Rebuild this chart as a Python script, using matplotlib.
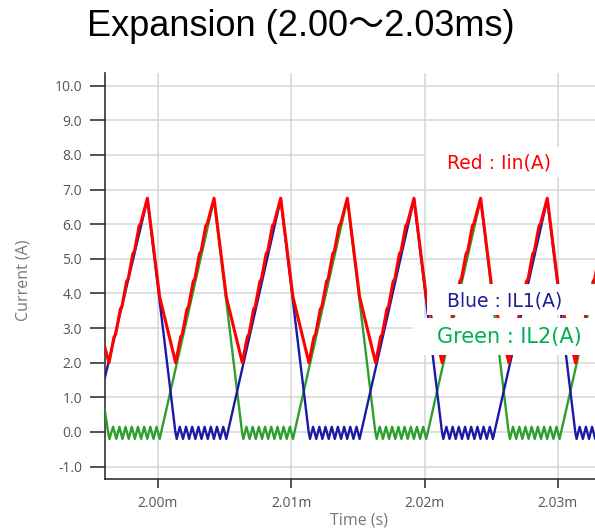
import matplotlib
matplotlib.use("Agg")
import matplotlib.pyplot as plt
from matplotlib.patches import Rectangle

# time in microseconds, measured from 2.000 ms
t_il1 = [-4.00, -0.80, 1.30, 1.40, 1.63, 1.87, 2.10, 2.33, 2.56, 2.80, 3.03, 3.26, 3.49, 3.73, 3.96, 4.19, 4.42, 4.66, 4.89, 5.12,
         9.20, 11.30, 11.40, 11.63, 11.87, 12.10, 12.33, 12.56, 12.80, 13.03, 13.26, 13.49, 13.73, 13.96, 14.19, 14.42, 14.66, 14.89, 15.12,
         19.20, 21.30, 21.40, 21.63, 21.87, 22.10, 22.33, 22.56, 22.80, 23.03, 23.26, 23.49, 23.73, 23.96, 24.19, 24.42, 24.66, 24.89, 25.12,
         29.20, 31.30, 31.40, 31.63, 31.87, 32.10, 32.33, 32.56, 32.80, 33.03, 33.26, 33.49, 33.73, 33.96, 34.19]
il1 = [1.55, 6.72, 0.00, -0.20, 0.15, -0.20, 0.15, -0.20, 0.15, -0.20, 0.15, -0.20, 0.15, -0.20, 0.15, -0.20, 0.15, -0.20, 0.15, -0.20,
       6.72, 0.00, -0.20, 0.15, -0.20, 0.15, -0.20, 0.15, -0.20, 0.15, -0.20, 0.15, -0.20, 0.15, -0.20, 0.15, -0.20, 0.15, -0.20,
       6.72, 0.00, -0.20, 0.15, -0.20, 0.15, -0.20, 0.15, -0.20, 0.15, -0.20, 0.15, -0.20, 0.15, -0.20, 0.15, -0.20, 0.15, -0.20,
       6.72, 0.00, -0.20, 0.15, -0.20, 0.15, -0.20, 0.15, -0.20, 0.15, -0.20, 0.15, -0.20, 0.15, -0.20]

t_il2 = [-4.00, -3.75, -3.65, -3.37, -3.13, -2.90, -2.67, -2.44, -2.20, -1.97, -1.74, -1.51, -1.27, -1.04, -0.81, -0.58, -0.34, -0.11, 0.12,
         4.20, 6.30, 6.40, 6.63, 6.87, 7.10, 7.33, 7.56, 7.80, 8.03, 8.26, 8.49, 8.73, 8.96, 9.19, 9.42, 9.66, 9.89, 10.12,
         14.20, 16.30, 16.40, 16.63, 16.87, 17.10, 17.33, 17.56, 17.80, 18.03, 18.26, 18.49, 18.73, 18.96, 19.19, 19.42, 19.66, 19.89, 20.12,
         24.20, 26.30, 26.40, 26.63, 26.87, 27.10, 27.33, 27.56, 27.80, 28.03, 28.26, 28.49, 28.73, 28.96, 29.19, 29.42, 29.66, 29.89, 30.12,
         34.20]
il2 = [0.65, 0.00, -0.20, 0.15, -0.20, 0.15, -0.20, 0.15, -0.20, 0.15, -0.20, 0.15, -0.20, 0.15, -0.20, 0.15, -0.20, 0.15, -0.20,
       6.72, 0.00, -0.20, 0.15, -0.20, 0.15, -0.20, 0.15, -0.20, 0.15, -0.20, 0.15, -0.20, 0.15, -0.20, 0.15, -0.20, 0.15, -0.20,
       6.72, 0.00, -0.20, 0.15, -0.20, 0.15, -0.20, 0.15, -0.20, 0.15, -0.20, 0.15, -0.20, 0.15, -0.20, 0.15, -0.20, 0.15, -0.20,
       6.72, 0.00, -0.20, 0.15, -0.20, 0.15, -0.20, 0.15, -0.20, 0.15, -0.20, 0.15, -0.20, 0.15, -0.20, 0.15, -0.20, 0.15, -0.20,
       6.72]

t_iin = [-4.00, -3.68, -3.30, -3.18, -2.83, -2.71, -2.36, -2.24, -1.89, -1.77, -1.42, -1.30, -0.80,
         0.12, 1.32, 1.70, 1.82, 2.17, 2.29, 2.64, 2.76, 3.11, 3.23, 3.58, 3.70, 4.20,
         5.12, 6.32, 6.70, 6.82, 7.17, 7.29, 7.64, 7.76, 8.11, 8.23, 8.58, 8.70, 9.20,
         10.12, 11.32, 11.70, 11.82, 12.17, 12.29, 12.64, 12.76, 13.11, 13.23, 13.58, 13.70, 14.20,
         15.12, 16.32, 16.70, 16.82, 17.17, 17.29, 17.64, 17.76, 18.11, 18.23, 18.58, 18.70, 19.20,
         20.12, 21.32, 21.70, 21.82, 22.17, 22.29, 22.64, 22.76, 23.11, 23.23, 23.58, 23.70, 24.20,
         25.12, 26.32, 26.70, 26.82, 27.17, 27.29, 27.64, 27.76, 28.11, 28.23, 28.58, 28.70, 29.20,
         30.12, 31.32, 31.70, 31.82, 32.17, 32.29, 32.64, 32.76, 33.11, 33.23, 33.58, 33.70, 34.20]
iin = [2.45, 2.00, 2.75, 2.82, 3.55, 3.62, 4.35, 4.42, 5.15, 5.22, 5.95, 6.02, 6.75,
       3.90, 2.00, 2.75, 2.82, 3.55, 3.62, 4.35, 4.42, 5.15, 5.22, 5.95, 6.02, 6.75,
       3.90, 2.00, 2.75, 2.82, 3.55, 3.62, 4.35, 4.42, 5.15, 5.22, 5.95, 6.02, 6.75,
       3.90, 2.00, 2.75, 2.82, 3.55, 3.62, 4.35, 4.42, 5.15, 5.22, 5.95, 6.02, 6.75,
       3.90, 2.00, 2.75, 2.82, 3.55, 3.62, 4.35, 4.42, 5.15, 5.22, 5.95, 6.02, 6.75,
       3.90, 2.00, 2.75, 2.82, 3.55, 3.62, 4.35, 4.42, 5.15, 5.22, 5.95, 6.02, 6.75,
       3.90, 2.00, 2.75, 2.82, 3.55, 3.62, 4.35, 4.42, 5.15, 5.22, 5.95, 6.02, 6.75,
       3.90, 2.00, 2.75, 2.82, 3.55, 3.62, 4.35, 4.42, 5.15, 5.22, 5.95, 6.02, 6.75]

x_ticks = [0, 10, 20, 30]
x_tick_labels = ['2.00m', '2.01m', '2.02m', '2.03m']
y_ticks = [-1, 0, 1, 2, 3, 4, 5, 6, 7, 8, 9, 10]

W, H = 595, 530
fig = plt.figure(figsize=(W / 100, H / 100), dpi=100)

# axes box in pixels (right side runs past the picture edge, as in the screenshot)
ax = fig.add_axes([105 / W, 1 - 479 / H, 506 / W, 406 / H])

ax.plot(t_il2, il2, color='#2ca02c', lw=1.7, zorder=3)
ax.plot(t_il1, il1, color='#1a1aa6', lw=1.7, zorder=4)
ax.plot(t_iin, iin, color='#ff0000', lw=2.2, zorder=5)

ax.set_xlim(-3.98, 33.98)
ax.set_ylim(-1.357, 10.365)
ax.set_xticks(x_ticks)
ax.set_xticklabels(x_tick_labels)
ax.set_yticks(y_ticks)
ax.set_yticklabels(['%.1f' % v for v in y_ticks])

ax.grid(True, color='#d9d9d9', lw=1.2)
ax.set_axisbelow(True)
for s in ['top', 'right']:
    ax.spines[s].set_visible(False)
for s in ['left', 'bottom']:
    ax.spines[s].set_color('#333333')
    ax.spines[s].set_linewidth(1.2)

ax.tick_params(axis='y', length=11, width=1.2, color='#333333', pad=5.5,
               labelsize=10, labelcolor='#555555')
ax.tick_params(axis='x', length=6.5, width=1.2, color='#333333', pad=5.5,
               labelsize=10, labelcolor='#555555')
for lab in ax.get_xticklabels() + ax.get_yticklabels():
    lab.set_family('Open Sans')

ax.set_ylabel('Current (A)', color='#777777', fontsize=11.5, family='Open Sans')
ax.set_xlabel('Time (s)', color='#777777', fontsize=11.5, family='Open Sans')
ax.yaxis.set_label_coords(-0.162, 0.49)
ax.yaxis.label.set_verticalalignment('center')
ax.xaxis.set_label_coords(0.502, -0.101)
ax.xaxis.label.set_verticalalignment('center')

fig.text(301 / W, 1 - 27 / H, 'Expansion (2.00～2.03ms)', ha='center', va='center',
         fontsize=26, color='black', family=['Liberation Sans', 'Noto Sans CJK JP'])

# white label boxes covering the traces
def box(x0, y0, x1, y1):
    fig.patches.append(Rectangle((x0 / W, 1 - y1 / H), (x1 - x0) / W, (y1 - y0) / H,
                                 transform=fig.transFigure, facecolor='white',
                                 edgecolor='none', zorder=5))

box(426, 147, 600, 177)
box(427, 284, 600, 315)
box(413, 318, 600, 355)

fig.text(499 / W, 1 - 163 / H, 'Red : Iin(A)', ha='center', va='center',
         fontsize=13.5, color='#ff0000', zorder=6)
fig.text(505 / W, 1 - 301 / H, 'Blue : IL1(A)', ha='center', va='center',
         fontsize=13.5, color='#1c1c99', zorder=6)
fig.text(509 / W, 1 - 337 / H, 'Green : IL2(A)', ha='center', va='center',
         fontsize=15, color='#00b050', zorder=6)

fig.savefig('out.png', dpi=100)
